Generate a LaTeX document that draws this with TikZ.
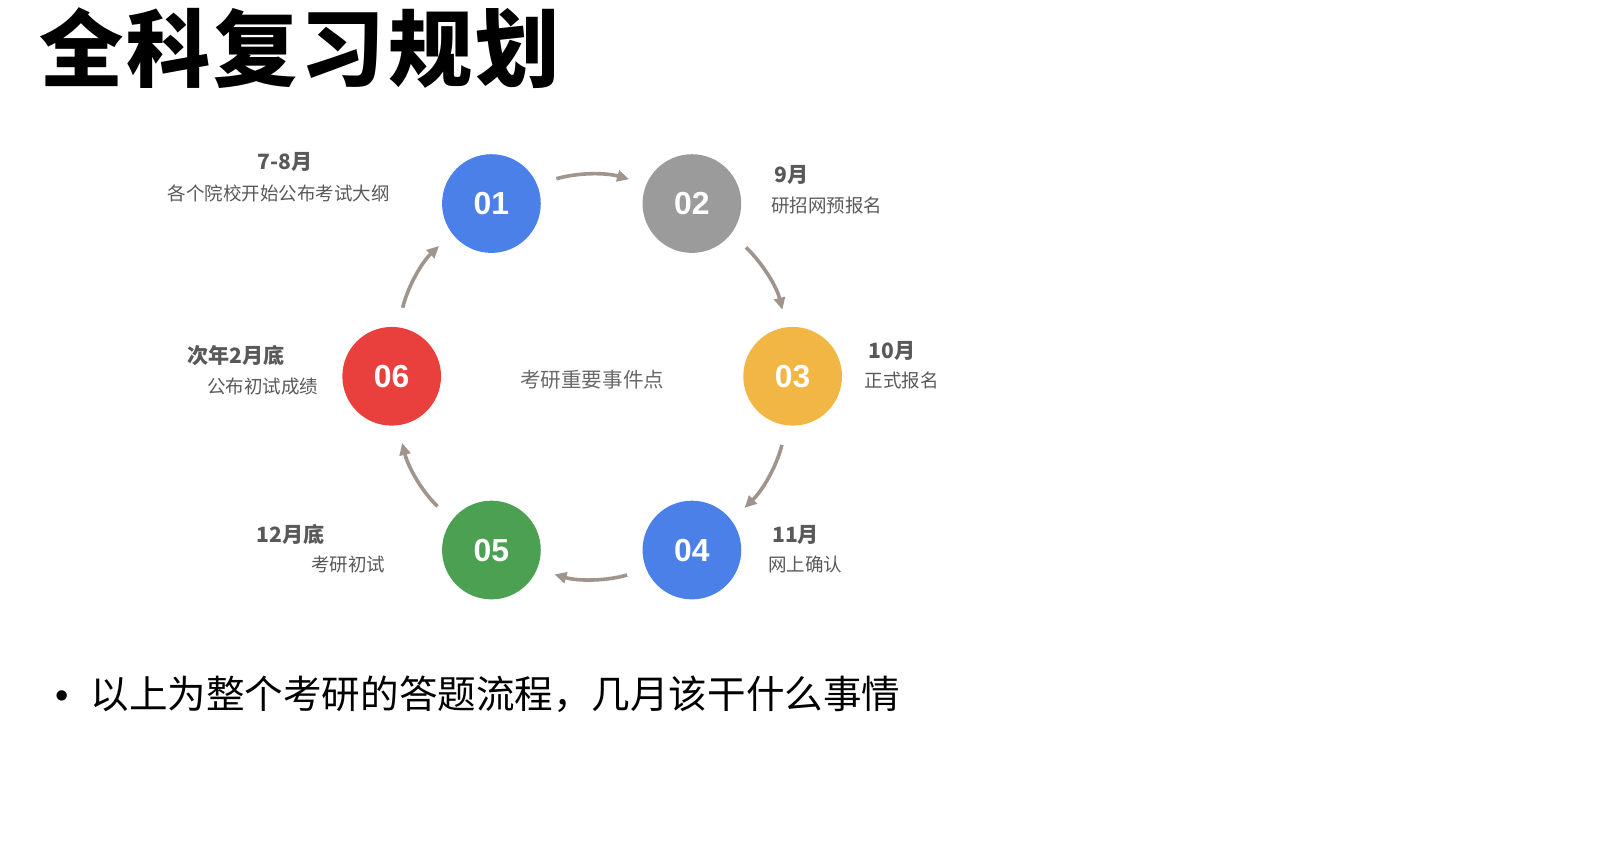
\documentclass[tikz,border=0pt]{standalone}
\usepackage{fontspec}
\setmainfont{Liberation Sans}
\newfontfamily\cjk{Noto Sans CJK SC}
\newfontfamily\titlefont[LetterSpace=3.5]{Noto Sans CJK SC}
\usetikzlibrary{arrows.meta, positioning, calc}

\definecolor{stageblue}{RGB}{74,128,232}
\definecolor{stagegray}{RGB}{155,155,155}
\definecolor{stageyellow}{RGB}{242,182,68}
\definecolor{stagegreen}{RGB}{76,160,82}
\definecolor{stagered}{RGB}{233,64,61}
\definecolor{arrowgray}{RGB}{160,148,140}
\definecolor{textgray}{RGB}{89,89,89}
\definecolor{centergray}{RGB}{105,105,105}

\begin{document}
\begin{tikzpicture}[
    x=1pt, y=1pt,
    stage/.style={circle, minimum size=96pt, inner sep=0pt, text=white, font=\fontsize{31}{31}\selectfont\bfseries},
    month/.style={inner sep=0pt, text=textgray, font=\cjk\bfseries\fontsize{20.5}{20.5}\selectfont},
    note/.style={inner sep=0pt, text=textgray, font=\cjk\fontsize{18}{18}\selectfont},
    flow/.style={draw=arrowgray, line width=3.6pt, -{Triangle[length=12pt, width=11pt]}, shorten <=20pt, shorten >=18pt},
    scale=1.028, every node/.style={scale=1.028}
    ]
    \useasboundingbox (0,0) rectangle (1567,-838.5);

    % Title
    \node[anchor=west, inner sep=0pt, font=\titlefont\bfseries\fontsize{82}{82}\selectfont] (title) at (38,-47) {全科复习规划};

    % Stages
    \node[stage, fill=stageblue] (jul) at (478,-198) {01};
    \node[stage, fill=stagegray] (sep) at (673,-198) {02};
    \node[stage, fill=stageyellow] (oct) at (771,-366) {03};
    \node[stage, fill=stageblue] (nov) at (673,-535) {04};
    \node[stage, fill=stagegreen] (dec) at (478,-535) {05};
    \node[stage, fill=stagered] (feb) at (381,-366) {06};

    % Cycle arrows
    \draw[flow] (jul.23) to[out=16, in=164] (sep.157);
    \draw[flow] (sep.-37) to[out=-44, in=104] (oct.97);
    \draw[flow] (oct.-97) to[out=-104, in=44] (nov.37);
    \draw[flow] (nov.-157) to[out=-164, in=-16] (dec.-23);
    \draw[flow] (dec.143) to[out=136, in=-76] (feb.-83);
    \draw[flow] (feb.83) to[out=76, in=224] (jul.217);

    % Centre caption
    \node[inner sep=0pt, text=centergray, font=\cjk\fontsize{20}{20}\selectfont] (centre) at (576,-369) {考研重要事件点};

    % Dates and events
    \node[month] (julmonth) at (277,-158) {7-8月};
    \node[note] (julnote) at (271,-188) {各个院校开始公布考试大纲};
    \node[month, anchor=west] (sepmonth) at (753,-170) {9月};
    \node[note, anchor=west] (sepnote) at (750,-200) {研招网预报名};
    \node[month, anchor=west] (octmonth) at (845,-341) {10月};
    \node[note, anchor=west] (octnote) at (841,-370) {正式报名};
    \node[month, anchor=west] (novmonth) at (751,-520) {11月};
    \node[note, anchor=west] (novnote) at (747,-549) {网上确认};
    \node[month, anchor=east] (decmonth) at (316,-520) {12月底};
    \node[note, anchor=east] (decnote) at (375,-549) {考研初试};
    \node[month, anchor=east] (febmonth) at (277,-346) {次年2月底};
    \node[note, anchor=east] (febnote) at (310,-376) {公布初试成绩};

    % Bullet line
    \node[anchor=base, inner sep=0pt, font=\fontsize{37}{37}\selectfont] (bullet) at (60,-689) {•};
    \node[anchor=base west, inner sep=0pt, font=\cjk\fontsize{37.5}{37.5}\selectfont] (summary) at (88,-689) {以上为整个考研的答题流程，几月该干什么事情};

\end{tikzpicture}
\end{document}
